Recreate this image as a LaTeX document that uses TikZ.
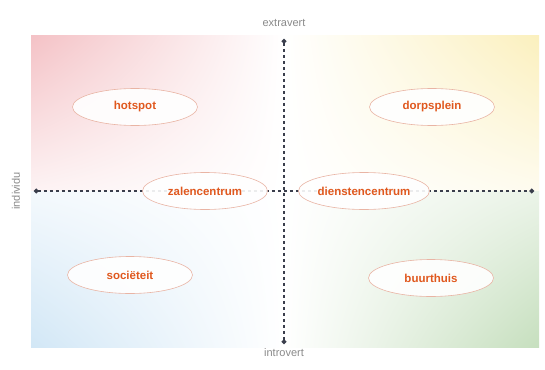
\documentclass[tikz,border=0pt]{standalone}
\usepackage{fontspec}
\setmainfont{Liberation Sans}
\usetikzlibrary{arrows.meta,shapes.geometric,shadings}
\definecolor{pinkc}{HTML}{F4C2C6}
\definecolor{yellowc}{HTML}{FBF0BE}
\definecolor{bluec}{HTML}{D2E7F6}
\definecolor{greenc}{HTML}{C6DFBE}
\definecolor{axisc}{HTML}{3A3E4C}
\definecolor{labelc}{HTML}{E0581E}
\definecolor{ringc}{HTML}{E9B4A4}
\definecolor{greyc}{HTML}{8A8A8A}
\tikzset{
  place/.style={ellipse, draw=ringc, line width=0.6pt, fill=white, fill opacity=0.9, text opacity=1,
    minimum width=125pt, minimum height=37pt, inner sep=0pt,
    font=\fontsize{11.5}{13}\selectfont\bfseries, text=labelc},
  axisline/.style={draw=axisc, line width=1.4pt, dash pattern=on 3pt off 3pt,
    {Circle[length=4.5pt]}-{Circle[length=4.5pt]}},
  axislabel/.style={font=\fontsize{11}{13}\selectfont, text=greyc, inner sep=0pt}
}
\begin{document}
\begin{tikzpicture}[x=1pt,y=-1pt]
\useasboundingbox (0,0) rectangle (545,369);
\fill[white] (0,0) rectangle (545,369);
% quadrant shadings
\shade[upper left=pinkc, upper right=white, lower left=pinkc!20!white, lower right=white] (31,36) rectangle (284,191);
\shade[upper left=white, upper right=yellowc, lower left=white, lower right=yellowc!25!white] (284,36) rectangle (539,191);
\shade[upper left=bluec!25!white, upper right=white, lower left=bluec, lower right=white] (31,191) rectangle (284,347);
\shade[upper left=white, upper right=greenc!35!white, lower left=white, lower right=greenc] (284,191) rectangle (539,347);
% axes
\coordinate (T) at (284,39);
\coordinate (B) at (284,344);
\coordinate (L) at (34,191);
\coordinate (R) at (534,191);
\draw[axisline] (T) -- (B);
\draw[axisline] (L) -- (R);
% axis labels
\node[axislabel] (extra) at (284,23) {extravert};
\node[axislabel] (intro) at (284,353) {introvert};
\node[axislabel, rotate=90] (indiv) at (16,191) {individu};
% places
\node[place] (hotspot) at (135,107) {hotspot};
\node[place] (dorp) at (432,107) {dorpsplein};
\node[place] (zalen) at (205,191) {zalencentrum};
\node[place] (diensten) at (364,191) {dienstencentrum};
\node[place] (soc) at (130,275) {sociëteit};
\node[place] (buurt) at (431,278) {buurthuis};
\end{tikzpicture}
\end{document}
